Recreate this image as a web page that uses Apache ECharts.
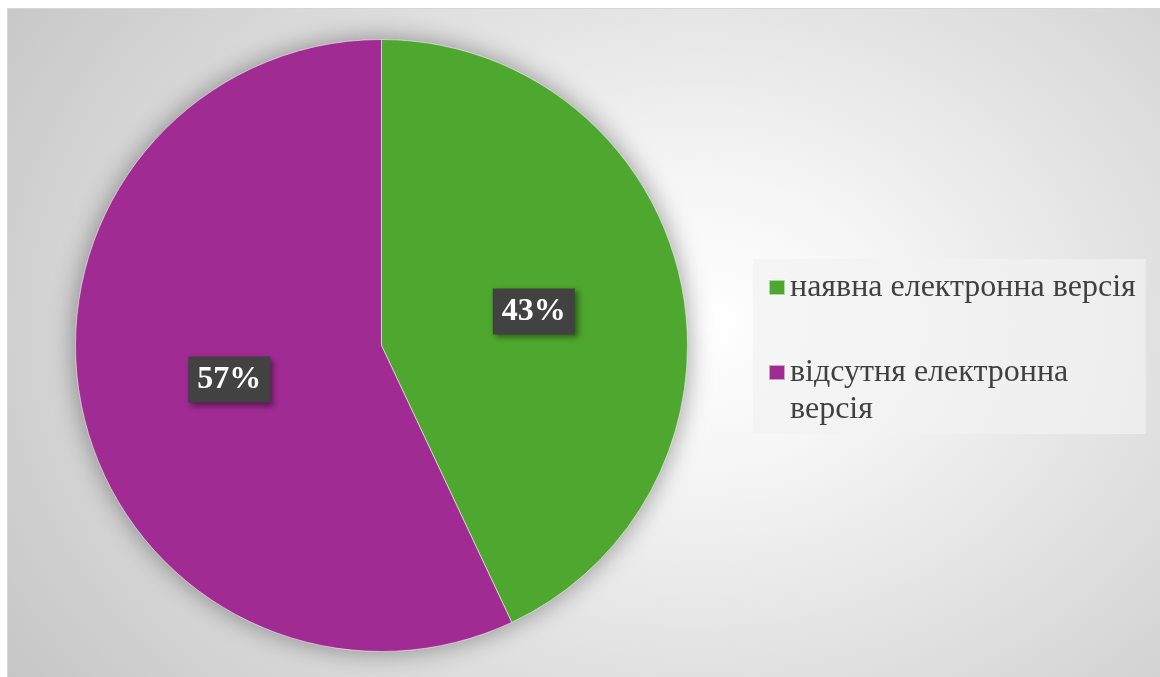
<!DOCTYPE html>
<html>
<head>
<meta charset="utf-8">
<script src="https://cdn.jsdelivr.net/npm/echarts@6/dist/echarts.min.js"></script>
<style>
html, body { margin: 0; padding: 0; background: #ffffff; width: 1160px; height: 677px; overflow: hidden; }
#chart {
  position: absolute; left: 7px; top: 8px; width: 1153px; height: 669px;
  background: radial-gradient(ellipse 72% 95% at 60% 47%, #ffffff 0%, #f6f6f6 22%, #dddddd 62%, #c6c6c6 100%);
  border-left: 1px solid #d6d6d6; border-top: 1px solid #d6d6d6; box-sizing: border-box;
}
</style>
</head>
<body>
<div id="chart"></div>
<script>
const categories = ['наявна електронна версія', 'відсутня електронна версія'];
const values = [43, 57];
const colors = ['#4EA72E', '#A02B93'];
const legendLabels = ['наявна електронна версія', '\nвідсутня електронна\nверсія'];

const serif = '"Liberation Serif", "Times New Roman", "DejaVu Serif", serif';
const total = values.reduce((a, b) => a + b, 0);

const chart = echarts.init(document.getElementById('chart'), null, { renderer: 'canvas' });
chart.setOption({
  backgroundColor: 'transparent',
  animation: false,
  legend: {
    orient: 'vertical',
    left: 745,
    top: 250,
    padding: [10, 10, 6, 15],
    itemGap: 11,
    itemWidth: 16,
    itemHeight: 15,
    backgroundColor: 'rgba(242,242,242,0.7)',
    icon: 'rect',
    selectedMode: false,
    formatter: name => legendLabels[categories.indexOf(name)],
    textStyle: { fontFamily: serif, fontSize: 32, color: '#404040', lineHeight: 37 },
    data: categories
  },
  series: [
    {
      type: 'pie',
      silent: true,
      center: [373.5, 336.5],
      radius: 306,
      z: 1,
      label: { show: false },
      labelLine: { show: false },
      itemStyle: { color: '#9a9a9a', shadowBlur: 26, shadowColor: 'rgba(0,0,0,0.4)' },
      data: [{ name: '', value: total }]
    },
    {
      type: 'pie',
      center: [373.5, 336.5],
      radius: 306,
      startAngle: 90,
      clockwise: true,
      z: 2,
      itemStyle: { borderColor: 'rgba(255,255,255,0.55)', borderWidth: 1 },
      label: {
        show: true,
        position: 'inner',
        formatter: '{c}%',
        fontFamily: serif,
        fontWeight: 'bold',
        fontSize: 32,
        lineHeight: 32,
        color: '#ffffff',
        backgroundColor: '#424242',
        padding: [7, 9, 7, 9],
        shadowColor: 'rgba(0,0,0,0.45)',
        shadowBlur: 6,
        shadowOffsetX: 3,
        shadowOffsetY: 3
      },
      labelLine: { show: false },
      emphasis: { disabled: true },
      data: categories.map((c, i) => ({ name: c, value: values[i], itemStyle: { color: colors[i] } }))
    }
  ]
});
</script>
</body>
</html>
